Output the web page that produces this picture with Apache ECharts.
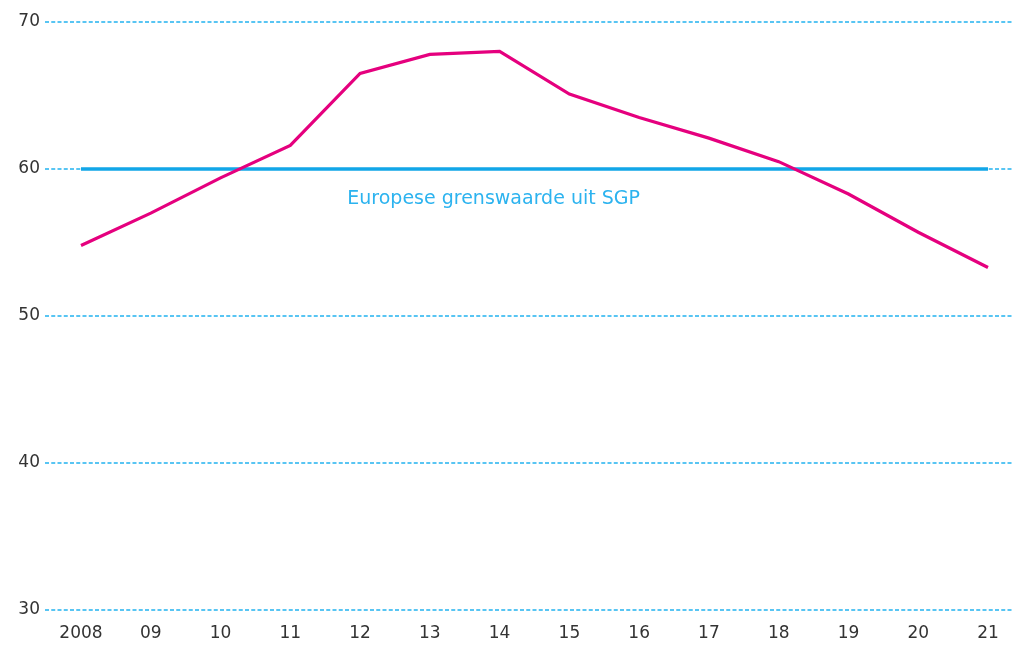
<!DOCTYPE html>
<html>
<head>
<meta charset="utf-8">
<title>Staatsschuld</title>
<script src="https://cdn.jsdelivr.net/npm/echarts@6/dist/echarts.min.js"></script>
<style>
  html, body { margin: 0; padding: 0; background: #ffffff; }
  #chart { width: 1013px; height: 645px; }
</style>
</head>
<body>
<div id="chart"></div>
<script>
// Year labels along the bottom axis
const years = ['2008', '09', '10', '11', '12', '13', '14', '15', '16', '17', '18', '19', '20', '21'];
// Debt ratio (% of GDP) per year
const debtRatio = [54.8, 57.0, 59.4, 61.6, 66.5, 67.8, 68.0, 65.1, 63.5, 62.1, 60.5, 58.3, 55.7, 53.3];
// European limit from the Stability and Growth Pact
const sgpLimit = 60;
const sgpLabel = 'Europese grenswaarde uit SGP';
const sgpLabelIndex = 6;
// Value axis range and ticks
const yMin = 30, yMax = 70, yStep = 10;

const FONT = '"DejaVu Sans", "Open Sans", sans-serif';
const TEXT = '#333333';
const GRID_BLUE = '#22b3ef';
const LIMIT_BLUE = '#12a6e8';
const MAGENTA = '#e5007e';

const chart = echarts.init(document.getElementById('chart'), null, { renderer: 'canvas' });

chart.setOption({
  animation: false,
  backgroundColor: '#ffffff',
  grid: [
    // full-width grid carrying the value axis and its dashed guide lines
    { left: 45, right: 1, top: 22, bottom: 35 },
    // inner grid where the year categories sit
    { left: 81, right: 25, top: 22, bottom: 35 }
  ],
  xAxis: [
    { gridIndex: 0, type: 'value', min: 0, max: 1, show: false },
    {
      gridIndex: 1,
      type: 'category',
      data: years,
      boundaryGap: false,
      axisLine: { show: false },
      axisTick: { show: false },
      splitLine: { show: false },
      axisLabel: { color: TEXT, fontFamily: FONT, fontSize: 17, margin: 15 }
    }
  ],
  yAxis: [
    {
      gridIndex: 0,
      type: 'value',
      min: yMin,
      max: yMax,
      interval: yStep,
      axisLine: { show: false },
      axisTick: { show: false },
      axisLabel: { color: TEXT, fontFamily: FONT, fontSize: 17, margin: 5 },
      splitLine: { show: true, lineStyle: { color: GRID_BLUE, width: 1.5, type: [4, 2.25] } }
    },
    {
      gridIndex: 1,
      type: 'value',
      min: yMin,
      max: yMax,
      interval: yStep,
      show: false,
      splitLine: { show: false }
    }
  ],
  series: [
    {
      name: sgpLabel,
      type: 'line',
      xAxisIndex: 1,
      yAxisIndex: 1,
      data: years.map(() => sgpLimit),
      symbol: 'none',
      silent: true,
      lineStyle: { color: LIMIT_BLUE, width: 3.5 },
      markPoint: {
        silent: true,
        symbol: 'circle',
        symbolSize: 0,
        data: [{ coord: [sgpLabelIndex, sgpLimit] }],
        label: {
          show: true,
          formatter: sgpLabel,
          position: 'bottom',
          distance: 21,
          offset: [-6, 0],
          color: '#2cb3ef',
          fontFamily: FONT,
          fontSize: 19
        }
      },
      z: 2
    },
    {
      name: 'Schuld',
      type: 'line',
      xAxisIndex: 1,
      yAxisIndex: 1,
      data: debtRatio,
      symbol: 'none',
      lineStyle: { color: MAGENTA, width: 3.2, join: 'miter' },
      z: 3
    }
  ]
});
</script>
</body>
</html>
